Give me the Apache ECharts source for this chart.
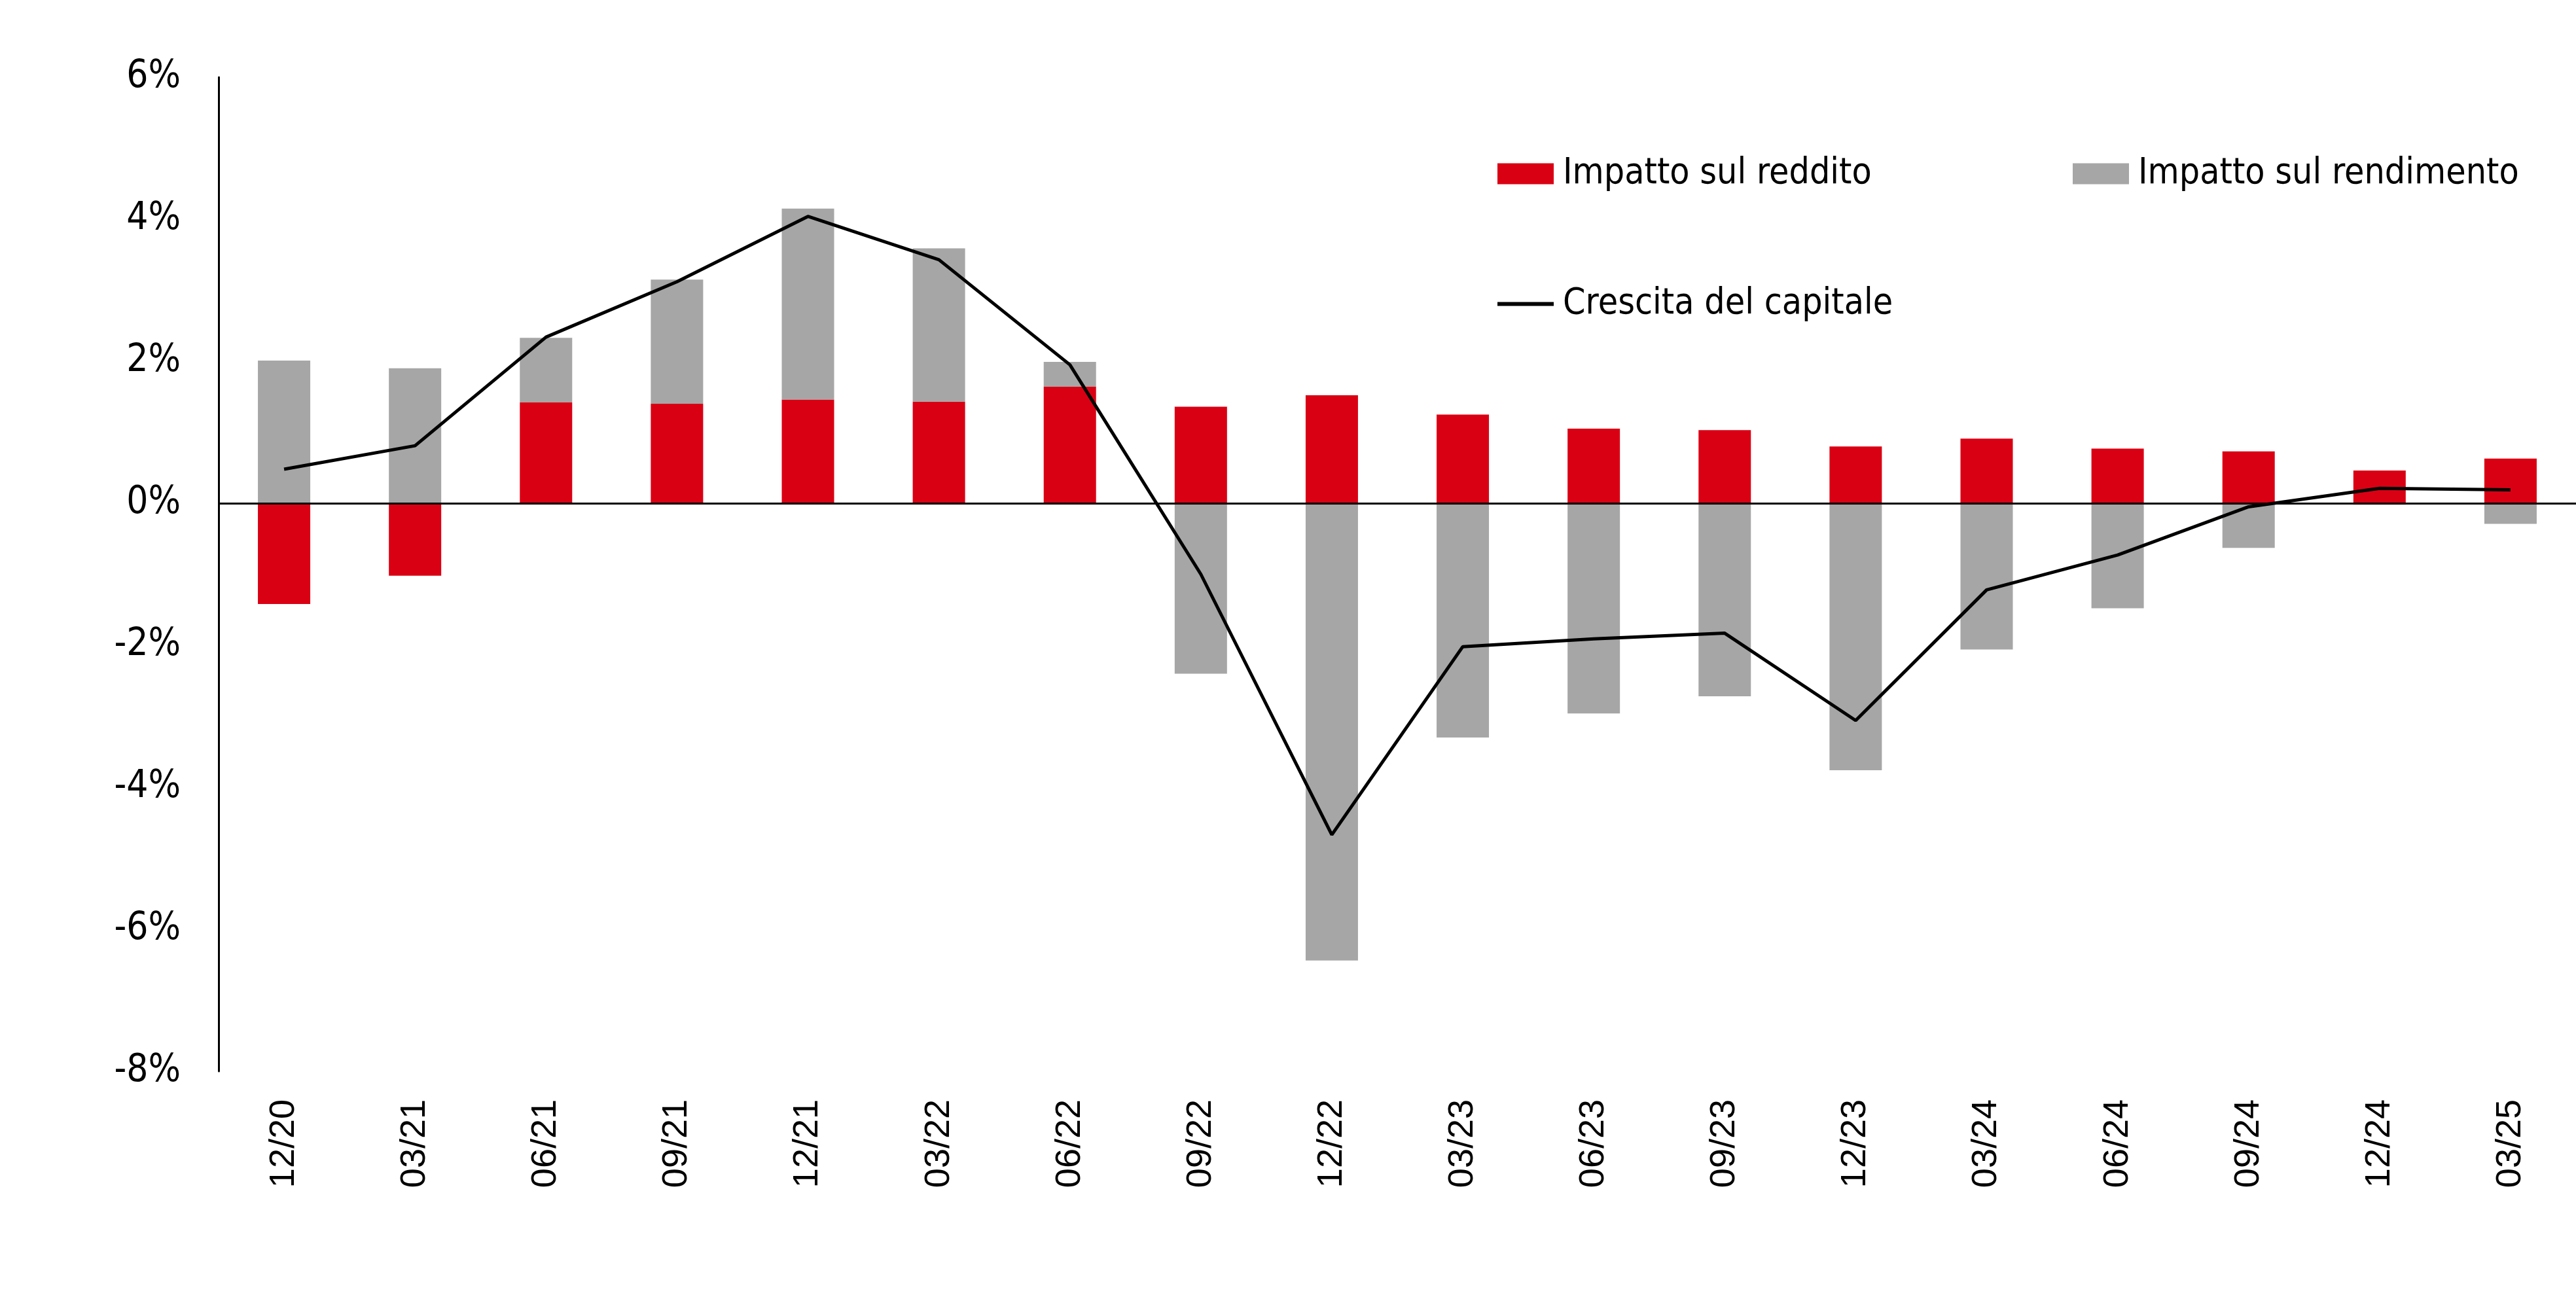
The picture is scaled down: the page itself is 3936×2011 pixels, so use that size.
<!DOCTYPE html>
<html>
<head>
<meta charset="utf-8">
<script src="https://cdn.jsdelivr.net/npm/echarts@6/dist/echarts.min.js"></script>
<style>
  html, body { margin: 0; padding: 0; background: #fff; }
  #chart { width: 3936px; height: 2011px; }
</style>
</head>
<body>
<div id="chart"></div>
<script>
// trimestri
const categories = ['12/20', '03/21', '06/21', '09/21', '12/21', '03/22', '06/22', '09/22', '12/22',
    '03/23', '06/23', '09/23', '12/23', '03/24', '06/24', '09/24', '12/24', '03/25'];

// impatto sul reddito (%)
const reddito = [-1.42, -1.02, 1.42, 1.40, 1.46, 1.43, 1.64, 1.36, 1.52,
    1.25, 1.05, 1.03, 0.80, 0.91, 0.77, 0.73, 0.46, 0.63];

// impatto sul rendimento (%)
const rendimento = [2.01, 1.90, 0.91, 1.75, 2.69, 2.16, 0.35, -2.40, -6.44,
    -3.30, -2.96, -2.72, -3.76, -2.06, -1.48, -0.63, -0.02, -0.29];

// crescita del capitale (%)
const crescita = [0.48, 0.81, 2.34, 3.12, 4.04, 3.43, 1.95, -1.00, -4.67,
    -2.02, -1.91, -1.83, -3.06, -1.22, -0.73, -0.05, 0.21, 0.19];

const narrow = "'Liberation Sans Narrow', 'DejaVu Sans Condensed', sans-serif";

const chart = echarts.init(document.getElementById('chart'));

const legendBase = {
    orient: 'horizontal',
    padding: 0,
    itemWidth: 86,
    itemHeight: 32,
    selectedMode: false,
    textStyle: {
        fontFamily: narrow,
        fontSize: 55,
        color: '#000',
        padding: [0, 0, 0, 9]
    }
};

chart.setOption({
    animation: false,
    backgroundColor: '#fff',
    grid: {
        left: 334,
        right: 0,
        top: 118,
        bottom: 374,
        containLabel: false
    },
    legend: [
        Object.assign({}, legendBase, {left: 2288, top: 238, data: [{name: 'Impatto sul reddito', icon: 'rect'}]}),
        Object.assign({}, legendBase, {left: 3167, top: 238, data: [{name: 'Impatto sul rendimento', icon: 'rect'}]}),
        Object.assign({}, legendBase, {left: 2288, top: 437, itemHeight: 6, data: [{name: 'Crescita del capitale', icon: 'rect'}]})
    ],
    xAxis: {
        type: 'category',
        data: categories,
        axisLine: {show: false, onZero: false},
        axisTick: {show: false},
        splitLine: {show: false},
        axisLabel: {
            rotate: 90,
            margin: 43,
            fontFamily: "'Liberation Sans', Arial, sans-serif",
            fontSize: 54,
            color: '#000'
        }
    },
    yAxis: {
        type: 'value',
        min: -8,
        max: 6,
        interval: 2,
        axisLine: {show: true, lineStyle: {color: '#000', width: 3}},
        axisTick: {show: false},
        splitLine: {show: false},
        axisLabel: {
            formatter: '{value}%',
            margin: 58,
            fontFamily: narrow,
            fontSize: 58,
            color: '#000'
        }
    },
    series: [
        {
            name: 'Impatto sul reddito',
            type: 'bar',
            stack: 'tot',
            barWidth: 80,
            itemStyle: {color: '#DA0014'},
            data: reddito
        },
        {
            name: 'Impatto sul rendimento',
            type: 'bar',
            stack: 'tot',
            barWidth: 80,
            itemStyle: {color: '#A6A6A6'},
            data: rendimento,
            markLine: {
                silent: true,
                symbol: 'none',
                label: {show: false},
                lineStyle: {color: '#000', width: 3, type: 'solid'},
                data: [{yAxis: 0}]
            }
        },
        {
            name: 'Crescita del capitale',
            type: 'line',
            symbol: 'none',
            lineStyle: {color: '#000', width: 5},
            itemStyle: {color: '#000'},
            data: crescita,
            z: 5
        }
    ]
});
</script>
</body>
</html>
